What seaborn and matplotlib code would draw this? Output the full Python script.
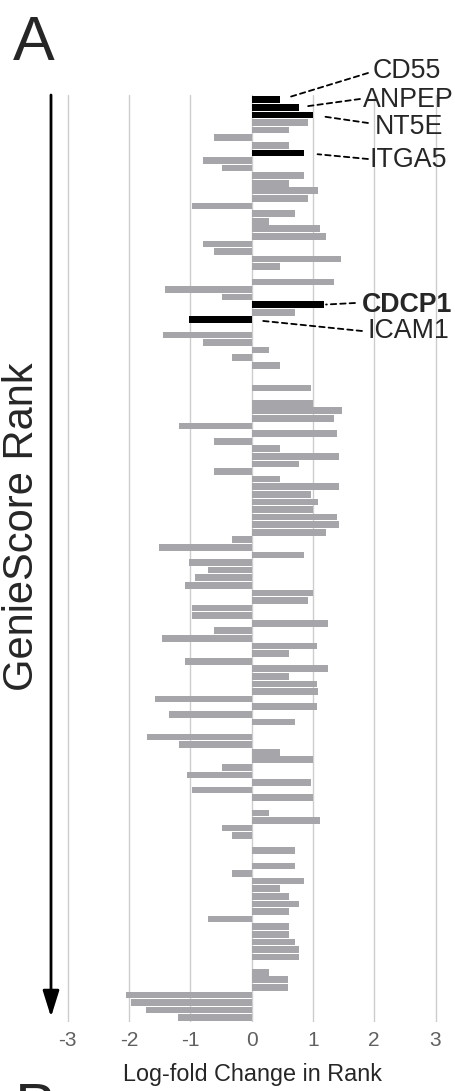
import numpy as np
import pandas as pd
import matplotlib
matplotlib.use("Agg")
import matplotlib.pyplot as plt
import seaborn as sns

# log-fold change in rank, one value per GenieScore rank slot (0 = no bar)
lfc = [
    0.47, 0.77, 1.00, 0.92, 0.61, -0.62, 0.61, 0.85, -0.80, -0.48,
    0.85, 0.61, 1.09, 0.92, -0.98, 0.70, 0.29, 1.12, 1.21, -0.80,
    -0.62, 1.45, 0.47, 0.00, 1.35, -1.42, -0.48, 1.18, 0.70, -1.02,
    0.00, -1.45, -0.80, 0.29, -0.32, 0.47, 0.00, 0.00, 0.97, 0.00,
    1.00, 1.47, 1.34, -1.18, 1.40, -0.62, 0.47, 1.42, 0.77, -0.62,
    0.47, 1.42, 0.97, 1.09, 1.00, 1.40, 1.42, 1.21, -0.32, -1.52,
    0.85, -1.02, -0.71, -0.92, -1.09, 1.00, 0.92, -0.98, -0.98, 1.25,
    -0.62, -1.47, 1.06, 0.61, -1.09, 1.25, 0.61, 1.06, 1.09, -1.58,
    1.06, -1.35, 0.70, 0.00, -1.70, -1.18, 0.47, 1.00, -0.48, -1.06,
    0.97, -0.98, 1.00, 0.00, 0.29, 1.12, -0.48, -0.32, 0.00, 0.70,
    0.00, 0.70, -0.32, 0.85, 0.47, 0.61, 0.77, 0.61, -0.71, 0.61,
    0.61, 0.70, 0.77, 0.77, 0.00, 0.29, 0.60, 0.60, -2.05, -1.97,
    -1.72, -1.21,
]

# highlighted genes: rank slot -> name
genes = ["CD55", "ANPEP", "NT5E", "ITGA5", "CDCP1", "ICAM1"]
gene_rank = [0, 1, 2, 7, 27, 29]
x_ticks = [-3, -2, -1, 0, 1, 2, 3]

df = pd.DataFrame({"rank": np.arange(len(lfc)), "lfc": lfc})
df["group"] = "other"
df.loc[df["rank"].isin(gene_rank), "group"] = "gene"

sns.set_style("white")
plt.rcParams["font.family"] = ["Liberation Sans", "DejaVu Sans"]

W, H = 455, 1091
fig = plt.figure(figsize=(W / 100, H / 100), dpi=100)
ax = fig.add_axes([0.1086, 0.0637, 0.889, 0.849])

sns.barplot(data=df, x="lfc", y="rank", hue="group", orient="h",
            palette={"other": "#a6a6aa", "gene": "black"}, saturation=1,
            dodge=False, legend=False, width=0.88, linewidth=0, ax=ax,
            order=list(df["rank"]))

ax.set_xlim(-3.3, 3.3)
ax.set_ylim(len(lfc) - 0.5, -0.6)
ax.set_xticks(x_ticks)
ax.set_xticklabels([str(t) for t in x_ticks])
ax.tick_params(axis="x", length=0, pad=7, labelsize=15, labelcolor="#606060")
ax.set_yticks([])
ax.set_xlabel("")
ax.set_ylabel("")
ax.grid(axis="x", color="#cdcdcd", lw=1)
ax.set_axisbelow(True)
for s in ax.spines.values():
    s.set_visible(False)

# gene labels with dashed leaders (text positions in figure pixels from top)
label_pos = [(373, 78), (363, 107), (375, 134), (370, 167), (362, 312), (367, 338)]
leader_end = [(368, 73), (360, 99), (368, 123), (368, 159), (355, 303), (362, 331)]
leader_gap = [8, 6, 6.5, 10, 1.5, 6]
for name, r, (tx, ty), (lx, ly), g in zip(genes, gene_rank, label_pos, leader_end, leader_gap):
    v = max(lfc[r], 0)
    ax.annotate("", xy=(v, r), xycoords="data",
                xytext=(lx, H - ly), textcoords="figure pixels",
                arrowprops=dict(arrowstyle="-", linestyle=(0, (3, 2.2)), lw=1.3,
                                color="black", shrinkA=0, shrinkB=g),
                annotation_clip=False)
    fig.text(tx / W, 1 - ty / H, name, fontsize=19.3, va="baseline", ha="left",
             fontweight="bold" if name == "CDCP1" else "normal")

# rank arrow
ax.annotate("", xy=(51, H - 1017), xycoords="figure pixels",
            xytext=(51, H - 95), textcoords="figure pixels",
            arrowprops=dict(arrowstyle="-|>,head_length=0.8,head_width=0.25",
                            mutation_scale=20, lw=2, color="black",
                            shrinkA=0, shrinkB=0),
            annotation_clip=False)

fig.text(22 / W, 1 - 527 / H, "GenieScore Rank", rotation=90, fontsize=30,
         ha="center", va="center")
fig.text(252 / W, 1 - 1075 / H, "Log-fold Change in Rank", fontsize=16.8,
         ha="center", va="center")
fig.text(13 / W, 1 - 60 / H, "A", fontsize=45, va="baseline", ha="left")
# top of the next panel's letter, cut off by the lower edge as in the source
fig.text(15 / W, 1 - 1127 / H, "B", fontsize=45, va="baseline", ha="left")

fig.savefig("out.png", dpi=100)
